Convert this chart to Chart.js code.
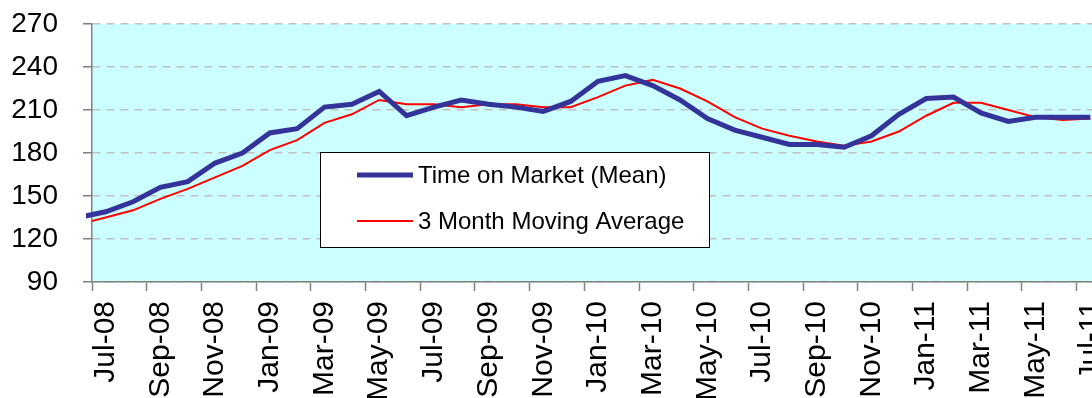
<!DOCTYPE html>
<html>
<head>
<meta charset="utf-8">
<script src="https://cdn.jsdelivr.net/npm/chart.js@4.4.1/dist/chart.umd.min.js"></script>
<style>
  html, body { margin: 0; padding: 0; background: #fff; overflow: hidden; }
  #wrap { position: relative; width: 1110px; height: 398px; }
</style>
</head>
<body>
<div id="wrap"><canvas id="tomChart"></canvas></div>
<script>
// months (Jun-08 sits just left of the visible axis)
const months = [
    "Jun-08",
    "Jul-08", "Aug-08", "Sep-08", "Oct-08", "Nov-08", "Dec-08",
    "Jan-09", "Feb-09", "Mar-09", "Apr-09", "May-09", "Jun-09",
    "Jul-09", "Aug-09", "Sep-09", "Oct-09", "Nov-09", "Dec-09",
    "Jan-10", "Feb-10", "Mar-10", "Apr-10", "May-10", "Jun-10",
    "Jul-10", "Aug-10", "Sep-10", "Oct-10", "Nov-10", "Dec-10",
    "Jan-11", "Feb-11", "Mar-11", "Apr-11", "May-11", "Jun-11", "Jul-11"
];
const timeOnMarket = [
    135,
    139, 146, 156, 160, 173, 180,
    194, 197, 212, 214, 223, 206,
    212, 217, 214, 212, 209, 216,
    230, 234, 227, 217, 204, 196,
    191, 186, 186, 184, 192, 207,
    218, 219, 208, 202, 205, 205, 205
];
const movingAvg = [
    130,
    135, 140, 148, 155, 163, 171,
    182, 189, 201, 207, 217, 214,
    214, 212, 214, 214, 212, 212,
    219, 227, 231, 225, 216, 205,
    197, 192, 188, 185, 188, 195,
    206, 215, 215, 210, 205, 203, 204
];
const yTicks = [90, 120, 150, 180, 210, 240, 270];

const FONT = "'Liberation Sans', Arial, sans-serif";

// light cyan plot area
const plotBg = {
    id: 'plotBg',
    beforeDraw(chart) {
        const a = chart.chartArea;
        const ctx = chart.ctx;
        ctx.save();
        ctx.fillStyle = '#CCFFFF';
        ctx.fillRect(a.left, a.top, a.right - a.left, a.bottom - a.top);
        ctx.restore();
    }
};

// boxed legend sitting inside the plot
const boxLegend = {
    id: 'boxLegend',
    afterDraw(chart) {
        const ctx = chart.ctx;
        const x = 320, y = 152, w = 389, h = 95;
        ctx.save();
        ctx.fillStyle = '#fff';
        ctx.fillRect(x, y, w, h);
        ctx.strokeStyle = '#000';
        ctx.lineWidth = 1;
        ctx.strokeRect(x + 0.5, y + 0.5, w, h);
        const rows = [175, 221];
        chart.data.datasets.forEach((ds, i) => {
            ctx.strokeStyle = ds.borderColor;
            ctx.lineWidth = ds.borderWidth;
            ctx.beginPath();
            ctx.moveTo(357, rows[i]);
            ctx.lineTo(413, rows[i]);
            ctx.stroke();
            ctx.fillStyle = '#000';
            ctx.font = '24px ' + FONT;
            ctx.textBaseline = 'middle';
            ctx.fillText(ds.label, 418, rows[i] + 1);
        });
        ctx.restore();
    }
};

new Chart(document.getElementById('tomChart'), {
    type: 'line',
    data: {
        labels: months,
        datasets: [
            {
                label: 'Time on Market (Mean)',
                data: timeOnMarket,
                borderColor: '#333399',
                borderWidth: 5,
                pointRadius: 0,
                tension: 0,
                clip: {left: 6, right: 10, top: 5, bottom: 5}
            },
            {
                label: '3 Month Moving Average',
                data: movingAvg,
                borderColor: '#FF0000',
                borderWidth: 2,
                pointRadius: 0,
                tension: 0,
                clip: {left: 0, right: 10, top: 5, bottom: 5}
            }
        ]
    },
    options: {
        responsive: true,
        maintainAspectRatio: false,
        animation: false,
        layout: { autoPadding: false, padding: { top: 24, right: 6, left: 0, bottom: 0 } },
        plugins: {
            legend: { display: false },
            tooltip: { enabled: false }
        },
        scales: {
            x: {
                type: 'category',
                min: 'Jul-08',
                offset: true,
                afterFit: s => {
                    s.height = 116;
                    s.paddingLeft = 0;
                    s.paddingRight = 0;
                },
                grid: {
                    offset: true,
                    drawOnChartArea: false,
                    tickLength: 9,
                    tickWidth: 1.5,
                    tickColor: c => (c.index % 2 === 0 ? '#808080' : 'rgba(0,0,0,0)')
                },
                border: { color: '#808080', width: 1.5 },
                ticks: {
                    autoSkip: false,
                    maxRotation: 90,
                    minRotation: 90,
                    padding: 10,
                    color: '#000',
                    font: { family: FONT, size: 30 },
                    callback: function (v, i) {
                        return i % 2 === 0 ? this.getLabelForValue(v) : '';
                    }
                }
            },
            y: {
                min: 90,
                max: 270,
                afterFit: s => {
                    s.width = 92;
                    s.paddingTop = 0;
                    s.paddingBottom = 0;
                },
                afterBuildTicks: s => { s.ticks = yTicks.map(v => ({ value: v })); },
                grid: {
                    color: '#C0C0C0',
                    lineWidth: 1.5,
                    tickLength: 9,
                    tickWidth: 1.5,
                    tickColor: '#808080',
                    tickBorderDash: []
                },
                border: { color: '#808080', width: 1.5, dash: [8, 6] },
                ticks: {
                    padding: 25,
                    color: '#000',
                    font: { family: FONT, size: 28 }
                }
            }
        }
    },
    plugins: [plotBg, boxLegend]
});
</script>
</body>
</html>
